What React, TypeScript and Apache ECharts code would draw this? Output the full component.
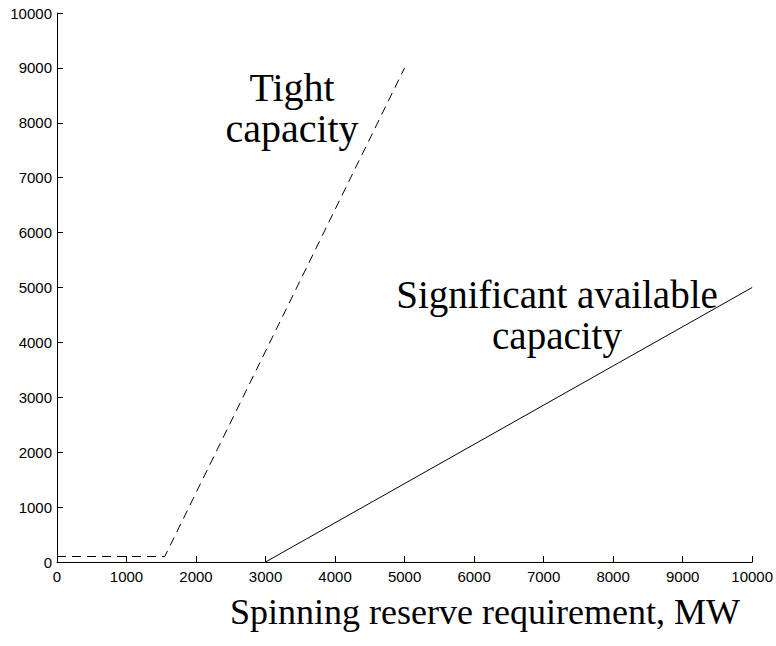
import React, { useEffect, useRef } from "react";
import * as echarts from "echarts";

const tightX = [0, 1550, 5000];
const tightY = [100, 100, 9000];
const sigX = [3000, 10000];
const sigY = [0, 5000];
const xTicks = [0, 10000, 1000];
const yTicks = [0, 10000, 1000];
const xTitle = "Spinning reserve requirement, MW";
const tightLabel = ["Tight", "capacity"];
const sigLabel = ["Significant available", "capacity"];

export default function App() {
  const ref = useRef<HTMLDivElement>(null);
  useEffect(() => {
    const chart = echarts.init(ref.current!, null, { renderer: "svg" });
    const serif = "'Liberation Serif', 'Times New Roman', serif";
    const sans = "'Liberation Sans', Arial, sans-serif";
    const txt = (t: string, x: number, y: number, fs: number, lh?: number) => ({
      type: "text",
      x,
      y,
      style: {
        text: t,
        fontSize: fs,
        fontFamily: serif,
        lineHeight: lh ?? fs,
        fill: "#000",
        textAlign: "center",
        textVerticalAlign: "middle",
      },
    });
    chart.setOption({
      animation: false,
      backgroundColor: "#fff",
      grid: { left: 57, right: 23, top: 13, bottom: 84, containLabel: false },
      xAxis: {
        type: "value",
        min: xTicks[0],
        max: xTicks[1],
        interval: xTicks[2],
        splitLine: { show: false },
        axisLine: { lineStyle: { color: "#000", width: 1 } },
        axisTick: { inside: true, length: 6, lineStyle: { color: "#000" } },
        axisLabel: { color: "#000", fontSize: 15, fontFamily: sans, margin: 7, formatter: (v: number) => String(v) },
      },
      yAxis: {
        type: "value",
        min: yTicks[0],
        max: yTicks[1],
        interval: yTicks[2],
        splitLine: { show: false },
        axisLine: { show: true, lineStyle: { color: "#000", width: 1 } },
        axisTick: { show: true, inside: true, length: 6, lineStyle: { color: "#000" } },
        axisLabel: { color: "#000", fontSize: 15, fontFamily: sans, margin: 5, formatter: (v: number) => String(v) },
      },
      series: [
        {
          type: "line",
          data: tightX.map((x, i) => [x, tightY[i]]),
          symbol: "none",
          lineStyle: { color: "#000", width: 1, type: [9, 6] },
        },
        {
          type: "line",
          data: sigX.map((x, i) => [x, sigY[i]]),
          symbol: "none",
          lineStyle: { color: "#000", width: 1, type: "solid" },
        },
      ],
      graphic: [
        txt(tightLabel.join("\n"), 292, 107.5, 40, 41),
        txt(sigLabel.join("\n"), 557, 315, 39, 41),
        txt(xTitle, 485, 612, 36),
      ],
    });
    return () => chart.dispose();
  }, []);
  return <div ref={ref} style={{ width: 776, height: 646, position: "absolute", left: 0, top: 0 }} />;
}
